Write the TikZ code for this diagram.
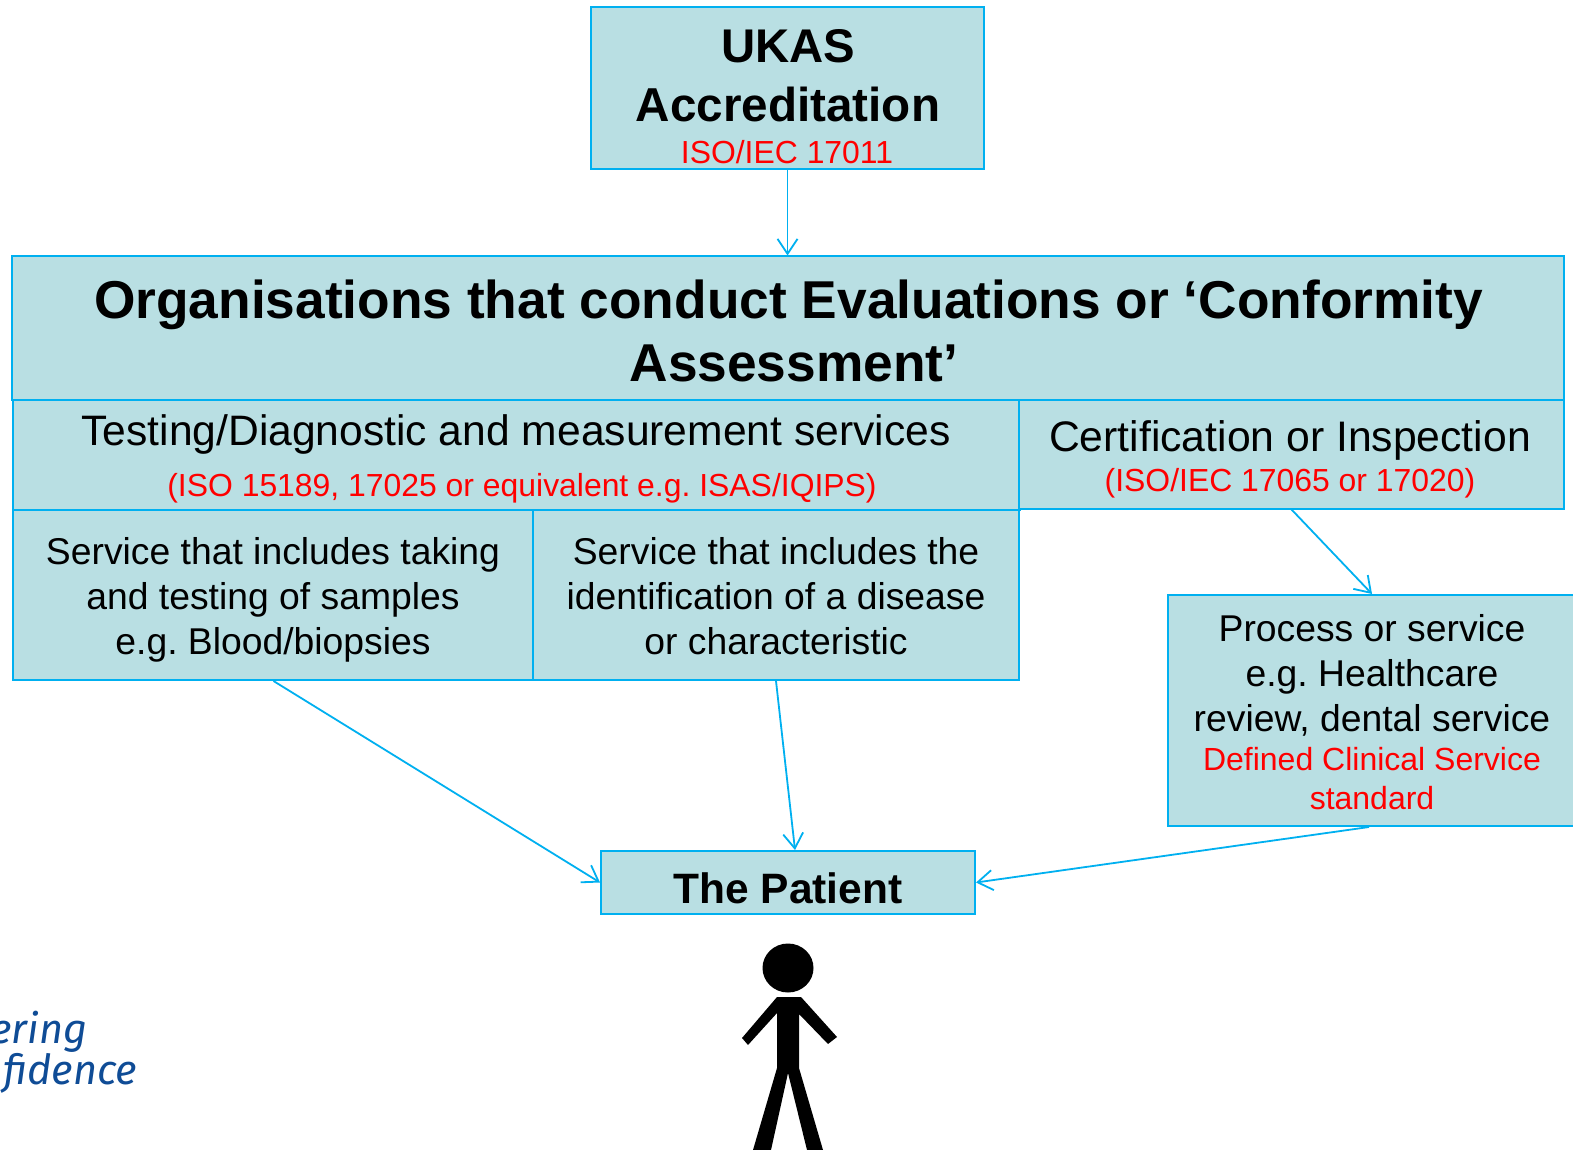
\documentclass[tikz,border=0pt]{standalone}
\usepackage{fontspec}
\setmainfont{Liberation Sans}
\newfontfamily\logofont{Fira Sans}
\usetikzlibrary{arrows.meta}
\definecolor{fillb}{HTML}{B9DFE3}
\definecolor{lineb}{HTML}{00B0F0}
\definecolor{redt}{HTML}{FF0000}
\definecolor{logob}{HTML}{0F4C96}
\tikzset{
 x=1pt,y=-1pt,
 boxn/.style={draw=lineb,fill=fillb,line width=2pt,inner sep=0pt,anchor=north west},
 txt/.style={align=center,inner sep=0pt,text=black},
 conn/.style={draw=lineb,line width=1.8pt,-{Straight Barb[length=15pt,width=20pt,line width=1.8pt]}},
 redtxt/.style={text=redt},
 logotxt/.style={anchor=west,inner sep=0pt,text=logob,font=\logofont\itshape\fs{41.5}}
}
\newcommand{\fs}[1]{\fontsize{#1}{#1}\selectfont\frenchspacing}
\begin{document}
\begin{tikzpicture}
\useasboundingbox (0,0) rectangle (1573,1150);
\path[fill=white] (0,0) rectangle (1573,1150);
% boxes
\node[boxn,minimum width=393pt,minimum height=162pt] (ukas) at (590,6.5) {};
\node[boxn,minimum width=1552pt,minimum height=143pt] (org) at (11,255.5) {};
\node[boxn,minimum width=1007pt,minimum height=110pt] (test) at (12,398.5) {};
\node[boxn,minimum width=545pt,minimum height=109pt] (cert) at (1018,398.5) {};
\node[boxn,minimum width=521pt,minimum height=170pt] (samp) at (12,509) {};
\node[boxn,minimum width=486pt,minimum height=170pt] (ident) at (532,509) {};
\node[boxn,minimum width=408pt,minimum height=231pt] (proc) at (1167,594) {};
\node[boxn,minimum width=374pt,minimum height=63pt] (pat) at (600,850) {};
% text
\node[txt,font=\bfseries\fs{47.3}] (t1) at (788.5,46) {UKAS};
\node[txt,font=\bfseries\fs{47.6}] (t2) at (788,104) {Accreditation};
\node[txt,redtxt,font=\fs{31.9}] (t3) at (787,152) {ISO/IEC 17011};
\node[txt,font=\bfseries\fs{53.3}] (t4) at (788.5,305) {Organisations that conduct Evaluations or ‘Conformity};
\node[txt,font=\bfseries\fs{53.3}] (t5) at (794,363) {Assessment’};
\node[txt,font=\fs{42.6}] (t6) at (516,434) {Testing/Diagnostic and measurement services};
\node[txt,redtxt,font=\fs{31.9}] (t7) at (522,488) {(ISO 15189, 17025 or equivalent e.g. ISAS/IQIPS)};
\node[txt,font=\fs{42.7}] (t8) at (1290,440) {Certification or Inspection};
\node[txt,redtxt,font=\fs{31.9}] (t9) at (1290,483) {(ISO/IEC 17065 or 17020)};
\node[txt,font=\fs{37.3}] (a1) at (273,555) {Service that includes taking};
\node[txt,font=\fs{37.3}] (a2) at (273,600) {and testing of samples};
\node[txt,font=\fs{37.3}] (a3) at (273,645) {e.g. Blood/biopsies};
\node[txt,font=\fs{37.3}] (b1) at (776,551) {Service that includes the};
\node[txt,font=\fs{37.3}] (b2) at (776,596) {identification of a disease};
\node[txt,font=\fs{37.3}] (b3) at (776,641) {or characteristic};
\node[txt,font=\fs{37.3}] (c1) at (1372,628) {Process or service};
\node[txt,font=\fs{37.3}] (c2) at (1372,677) {e.g. Healthcare};
\node[txt,font=\fs{37.3}] (c3) at (1372,720) {review, dental service};
\node[txt,redtxt,font=\fs{32}] (c4) at (1372,759) {Defined Clinical Service};
\node[txt,redtxt,font=\fs{32}] (c5) at (1372,798) {standard};
\node[txt,font=\bfseries\fs{42.5}] (p1) at (788,888) {The Patient};
% connectors
\coordinate (e4) at ([xshift=7pt]pat.north);
\coordinate (s5) at ([xshift=-3pt]proc.south);
\draw[conn] (ukas.south) -- (ukas.south |- org.north);
\draw[conn] (cert.south) -- (proc.north);
\draw[conn] (samp.south) -- (pat.west);
\draw[conn] (ident.south) -- (e4);
\draw[conn] (s5) -- (pat.east);
% figure
\fill[black] (788,968) ellipse [x radius=25.5, y radius=24.5];
\fill[black] (777,997) -- (801,997) -- (837,1037) -- (828,1044) -- (799,1014) -- (799,1068)
  -- (823,1150) -- (807,1150) -- (788,1073) -- (771,1150) -- (753,1150) -- (777,1068)
  -- (777,1013) -- (748,1045) -- (742,1038) -- cycle;
% logo
\node[logotxt] (l1) at (-10,1032) {ering};
\node[logotxt] (l2) at (3,1073) {fidence};
\end{tikzpicture}
\end{document}
